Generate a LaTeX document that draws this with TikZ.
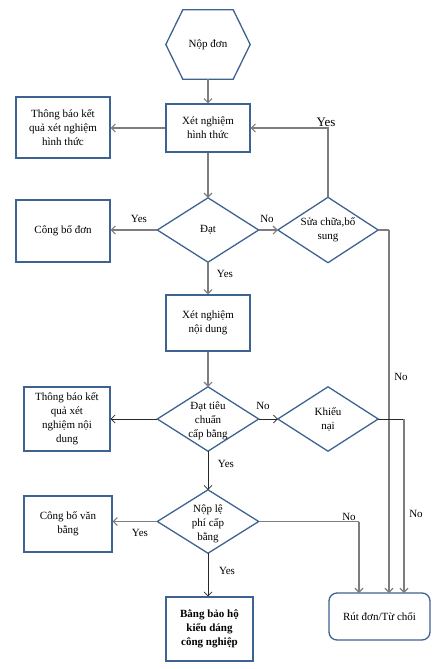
\documentclass[tikz,border=0pt]{standalone}
\usepackage{fontspec}
\setmainfont{Liberation Serif}
\usetikzlibrary{arrows.meta,calc}
\definecolor{boxblue}{RGB}{62,98,145}
\definecolor{conngray}{RGB}{125,125,125}
\definecolor{conndark}{RGB}{40,40,40}
\begin{document}
\begin{tikzpicture}[x=1pt,y=-1pt,
  every node/.style={font=\fontsize{11}{14}\selectfont, align=center, inner sep=0pt},
  box/.style={draw=boxblue, line width=1.3pt, rectangle},
  hold/.style={rectangle},
  shp/.style={draw=boxblue, line width=1.3pt, line join=miter},
  conn/.style={draw=conngray, line width=1.1pt, -{Straight Barb[length=4pt,width=8pt]}},
  connd/.style={draw=conndark, line width=0.7pt, -{Straight Barb[length=4pt,width=8pt]}},
  linel/.style={draw=conngray, line width=1.1pt},
  lined/.style={draw=conndark, line width=0.7pt},
  lbl/.style={font=\fontsize{11}{12}\selectfont}
]
\useasboundingbox (0,0) rectangle (444,669);

% nodes
\node[hold, minimum width=84pt, minimum height=69pt] (hex) at (208,44.5) {Nộp đơn};
\draw[shp] ($(hex.west)$) -- ($(hex.north west)+(17,0)$) -- ($(hex.north east)+(-17,0)$) -- (hex.east) -- ($(hex.south east)+(-17,0)$) -- ($(hex.south west)+(17,0)$) -- cycle;

\node[box, minimum width=84pt, minimum height=48pt] (xnht) at (208,128) {Xét nghiệm\\hình thức};
\node[box, minimum width=94pt, minimum height=61pt] (tbht) at (63,127.5) {Thông báo kết\\quả xét nghiệm\\hình thức};

\node[hold, minimum width=101pt, minimum height=64pt] (dat) at (208,230) {Đạt};
\draw[shp] (dat.north) -- (dat.east) -- (dat.south) -- (dat.west) -- cycle;
\node[box, minimum width=94pt, minimum height=62pt] (cbd) at (63,231) {Công bố đơn};

\node[hold, minimum width=100pt, minimum height=65pt] (sua) at (328,230) {Sửa chữa,bổ\\sung};
\draw[shp] (sua.north) -- (sua.east) -- (sua.south) -- (sua.west) -- cycle;

\node[box, minimum width=84pt, minimum height=56pt] (xnnd) at (208,323) {Xét nghiệm\\nội dung};

\node[hold, minimum width=101pt, minimum height=64pt] (dtc) at (208,419) {};
\draw[shp] (dtc.north) -- (dtc.east) -- (dtc.south) -- (dtc.west) -- cycle;
\node (dtct) at (208,421) {Đạt tiêu\\chuẩn\\cấp bằng};
\node[box, minimum width=86pt, minimum height=64pt] (tbnd) at (67,419) {Thông báo kết\\quả xét\\nghiệm nội\\dung};

\node[hold, minimum width=100pt, minimum height=64pt] (kn) at (328,419) {Khiếu\\nại};
\draw[shp] (kn.north) -- (kn.east) -- (kn.south) -- (kn.west) -- cycle;

\node[hold, minimum width=101pt, minimum height=63pt] (nlp) at (208,521.5) {};
\draw[shp] (nlp.north) -- (nlp.east) -- (nlp.south) -- (nlp.west) -- cycle;
\node (nlpt) at (208,523.5) {Nộp lệ\\phí cấp\\bằng};
\node[box, minimum width=88pt, minimum height=56pt] (cbvb) at (68,524) {Công bố văn\\bằng};

\node[box, minimum width=87pt, minimum height=64pt, font=\bfseries\fontsize{11}{14}\selectfont] (bbh) at (209.5,629) {Bằng bảo hộ\\kiểu dáng\\công nghiệp};
\node[box, rounded corners=8pt, minimum width=101pt, minimum height=47pt] (rut) at (379.5,616.5) {Rút đơn/Từ chối};

\coordinate (r1) at (359,593);
\coordinate (r2) at (389,593);
\coordinate (r3) at (404,593);

% connectors
\draw[conn] (hex.south) -- (xnht.north);
\draw[conn] (xnht.west) -- (xnht.west -| tbht.east);
\draw[conn] (xnht.south) -- (dat.north);
\draw[conn] (dat.west) -- (dat.west -| cbd.east);
\node[lbl] (y1) at (139,219) {Yes};
\draw[conn] (dat.east) -- (sua.west);
\node[lbl] (n1) at (267,219) {No};
\draw[conn] (sua.north) -- (sua.north |- xnht.east) -- (xnht.east);
\node[font=\fontsize{13}{14}\selectfont] (y2) at (326,122) {Yes};
\draw[linel] (sua.east) -- (sua.east -| r2);
\draw[conn] (sua.east -| r2) -- (r2);
\node[lbl] (n2) at (401,377) {No};
\draw[conn] (dat.south) -- (xnnd.north);
\node[lbl] (y3) at (225,274) {Yes};
\draw[conn] (xnnd.south) -- (dtc.north);
\draw[connd] (dtc.west) -- (dtc.west -| tbnd.east);
\draw[connd] (dtc.east) -- (kn.west);
\node[lbl] (n3) at (263,406) {No};
\draw[lined] (kn.east) -- (kn.east -| r3);
\draw[conn] (kn.east -| r3) -- (r3);
\node[lbl] (n4) at (416,514) {No};
\draw[connd] (dtc.south) -- (nlp.north);
\node[lbl] (y4) at (226,464) {Yes};
\draw[conn] (nlp.west) -- (nlp.west -| cbvb.east);
\node[lbl] (y5) at (140,533) {Yes};
\draw[linel] (nlp.east) -- (nlp.east -| r1);
\draw[conn] (nlp.east -| r1) -- (r1);
\node[lbl] (n5) at (349,517) {No};
\draw[connd] (nlp.south) -- (nlp.south |- bbh.north);
\node[lbl] (y6) at (227,571) {Yes};
\end{tikzpicture}
\end{document}
